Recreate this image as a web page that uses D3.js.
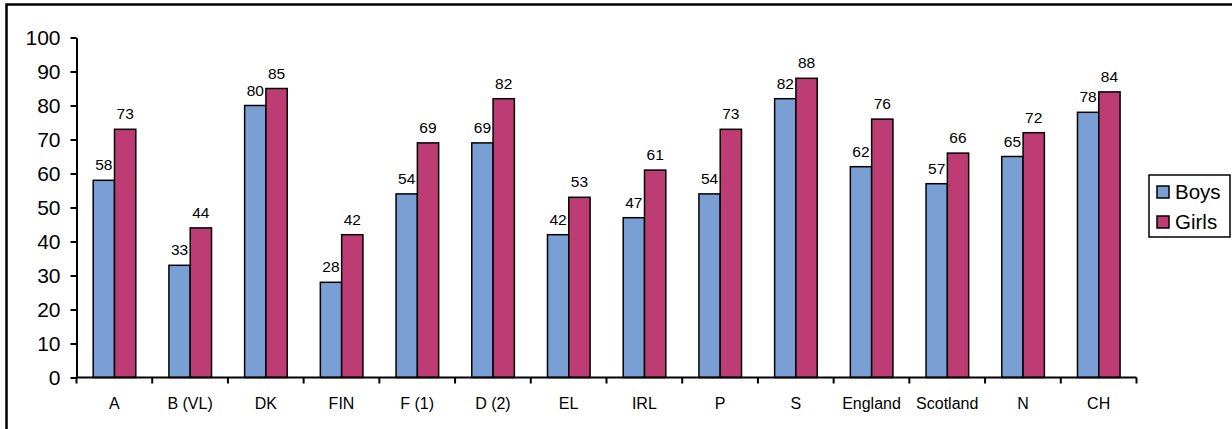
<!DOCTYPE html>
<html><head><meta charset="utf-8">
<script src="https://cdn.jsdelivr.net/npm/d3@7"></script>
<style>body{margin:0;background:#fff}svg{display:block;font-family:"Liberation Sans",Arial,sans-serif}</style>
</head><body>
<script>
const categories = ["A","B (VL)","DK","FIN","F (1)","D (2)","EL","IRL","P","S","England","Scotland","N","CH"];
const boys  = [58,33,80,28,54,69,42,47,54,82,62,57,65,78];
const girls = [73,44,85,42,69,82,53,61,73,88,76,66,72,84];
const seriesNames = ["Boys","Girls"];
const yTicks = [0,10,20,30,40,50,60,70,80,90,100];
const colors = ["#7A9FD4","#BD3C74"];

const W=1232,H=429;
const svg=d3.select("body").append("svg").attr("width",W).attr("height",H);
svg.append("rect").attr("x",6.5).attr("y",4.5).attr("width",W).attr("height",H).attr("fill","none").attr("stroke","#000").attr("stroke-width",2.5);

const x0=d3.scaleBand().domain(categories).range([76.5,1136.5]).paddingInner(0).paddingOuter(0);
const inner=d3.scaleBand().domain(seriesNames).range([16.7,16.7+42.6]);
const y=d3.scaleLinear().domain([0,100]).range([377.5,37.5]);

const data=categories.map((c,i)=>({c,vals:[boys[i],girls[i]]}));
const g=svg.append("g");
const grp=g.selectAll("g.grp").data(data).join("g").attr("transform",d=>`translate(${x0(d.c)},0)`);
seriesNames.forEach((s,k)=>{
  grp.append("rect").attr("x",inner(s)).attr("width",inner.bandwidth())
    .attr("y",d=>y(d.vals[k])).attr("height",d=>y(0)-y(d.vals[k]))
    .attr("fill",colors[k]).attr("stroke","#000").attr("stroke-width",1.5);
  grp.append("text").attr("x",inner(s)+inner.bandwidth()/2).attr("y",d=>y(d.vals[k])-10)
    .attr("text-anchor","middle").attr("font-size",15.5).text(d=>d.vals[k]);
});

// y axis
const ya=svg.append("g").attr("transform","translate(76.5,0)")
  .call(d3.axisLeft(y).tickValues(yTicks).tickSize(6).tickPadding(10).tickSizeOuter(0));
ya.selectAll("text").attr("font-size",21).attr("font-family","Liberation Sans, Arial, sans-serif").attr("fill","#000");
ya.selectAll("line,path").attr("stroke","#000").attr("stroke-width",2);

// x axis
const xa=svg.append("g").attr("transform",`translate(0,${y(0)})`);
xa.append("line").attr("x1",76.5).attr("x2",1136.5).attr("stroke","#000").attr("stroke-width",2);
const bounds=categories.map(c=>x0(c)).concat([x0.range()[1]]);
xa.selectAll("line.t").data(bounds).join("line").attr("class","t").attr("x1",d=>d).attr("x2",d=>d).attr("y1",0).attr("y2",6).attr("stroke","#000").attr("stroke-width",2);
xa.selectAll("text").data(categories).join("text").attr("x",d=>x0(d)+x0.bandwidth()/2).attr("y",31)
  .attr("text-anchor","middle").attr("font-size",16).text(d=>d);

// legend
const lg=svg.append("g");
lg.append("rect").attr("x",1149).attr("y",175).attr("width",81).attr("height",62).attr("fill","#fff").attr("stroke","#000").attr("stroke-width",1.5);
seriesNames.forEach((s,k)=>{
  lg.append("rect").attr("x",1157).attr("y",186+k*30).attr("width",12).attr("height",12).attr("fill",colors[k]).attr("stroke","#000").attr("stroke-width",1.5);
  lg.append("text").attr("x",1175).attr("y",199+k*30).attr("font-size",20.5).text(s);
});
</script>
</body></html>
